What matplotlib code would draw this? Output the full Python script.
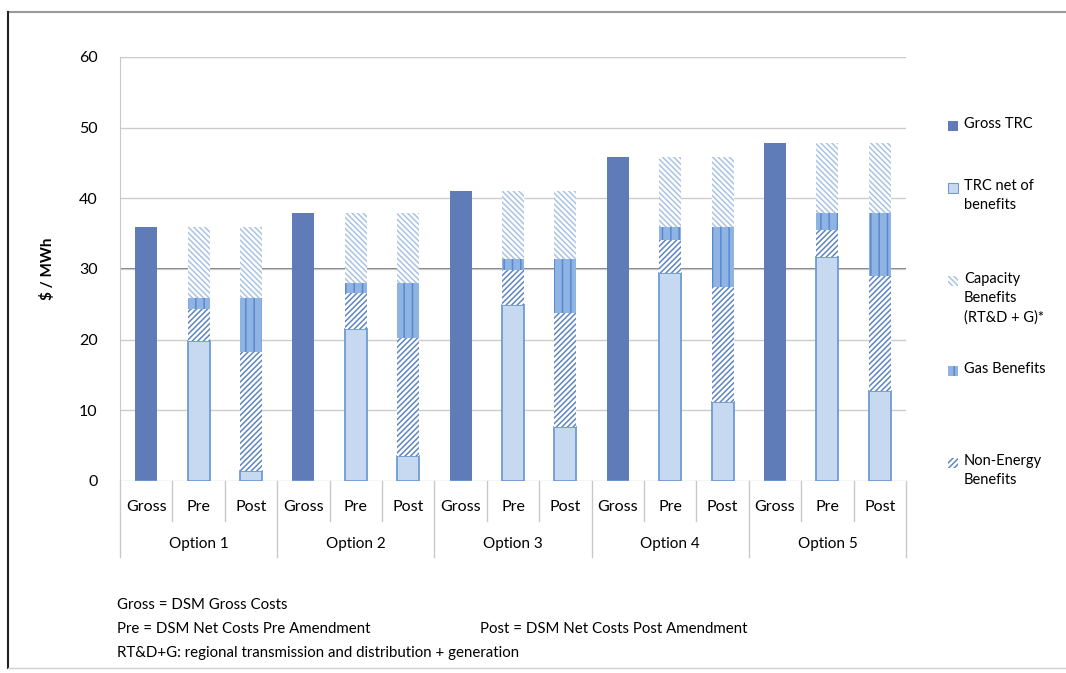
import matplotlib.pyplot as plt
from matplotlib.patches import Rectangle
from matplotlib.lines import Line2D
import numpy as np

plt.rcParams['font.family'] = ['Lato', 'DejaVu Sans']
plt.rcParams['hatch.linewidth'] = 1.1

# data ($/MWh), one value per bar: Gross, Pre, Post for each option
options = ['Option 1', 'Option 2', 'Option 3', 'Option 4', 'Option 5']
bar_labels = ['Gross', 'Pre', 'Post'] * 5
gross_trc = [36.0, 0, 0, 37.9, 0, 0, 41.0, 0, 0, 45.8, 0, 0, 47.8, 0, 0]
trc_net = [0, 19.8, 1.4, 0, 21.5, 3.5, 0, 24.9, 7.6, 0, 29.5, 11.2, 0, 31.7, 12.8]
non_energy = [0, 4.6, 16.9, 0, 5.1, 16.7, 0, 5.0, 16.2, 0, 4.6, 16.3, 0, 3.8, 16.2]
gas = [0, 1.5, 7.6, 0, 1.4, 7.8, 0, 1.5, 7.6, 0, 1.9, 8.5, 0, 2.4, 8.9]
capacity = [0, 10.1, 10.1, 0, 9.9, 9.9, 0, 9.6, 9.6, 0, 9.8, 9.8, 0, 9.9, 9.9]

W, H = 1066, 673
fig = plt.figure(figsize=(W / 100, H / 100), dpi=100)
ax = fig.add_axes([120 / W, 1 - 481 / H, (906 - 120) / W, (481 - 57) / H])

x = np.arange(len(bar_labels))
bw = 0.42
b1 = np.array(trc_net)
b2 = b1 + np.array(non_energy)
b3 = b2 + np.array(gas)

# styles per series
st_gross = dict(color='#5f7bb8', linewidth=0)
st_trc = dict(facecolor='#c6d9f1', edgecolor='#6f9bd2', linewidth=1.3)
st_cap = dict(facecolor='white', edgecolor='#a9c3e3', hatch='\\' * 6, linewidth=0)
st_gas = dict(facecolor='#8fb4e4', edgecolor='#5a88cf', hatch='||', linewidth=0)
st_ne = dict(facecolor='white', edgecolor='#5f86c2', hatch='/' * 6, linewidth=0)

ax.bar(x, gross_trc, bw, zorder=3, **st_gross)
ax.bar(x, trc_net, bw, zorder=3, **st_trc)
ax.bar(x, non_energy, bw, bottom=b1, zorder=3, **st_ne)
ax.bar(x, gas, bw, bottom=b2, zorder=3, **st_gas)
ax.bar(x, capacity, bw, bottom=b3, zorder=3, **st_cap)

ax.set_xlim(-0.5, len(x) - 0.5)
ax.set_ylim(0, 60)
ax.set_yticks(range(0, 61, 10))
ax.tick_params(axis='y', length=0, pad=16, labelsize=11.5)
ax.set_xticks([])
ax.yaxis.grid(True, color='#cccccc', linewidth=1, zorder=0)
ax.axhline(30, color='#606060', linewidth=1.2, zorder=1)
ax.axhline(60, color='#9a9a9a', linewidth=1.5, zorder=1)
for s in ['top', 'right', 'bottom']:
    ax.spines[s].set_visible(False)
ax.spines['left'].set_color('#c8c8c8')
ax.set_ylabel('$ / MWh', fontsize=11, fontweight='bold', labelpad=17)

# category table under the axis
tr = ax.get_xaxis_transform()
for i, lab in enumerate(bar_labels):
    ax.text(i, -0.061, lab, transform=tr, ha='center', va='center', fontsize=11.5)
for g, opt in enumerate(options):
    ax.text(3 * g + 1, -0.149, opt, transform=tr, ha='center', va='center', fontsize=11)
for k in range(len(x) + 1):
    xb = k - 0.5
    y_end = -0.179 if k % 3 == 0 else -0.095
    ax.add_line(Line2D([xb, xb], [0, y_end], transform=tr, color='#c8c8c8',
                       linewidth=1, clip_on=False))

# legend on the right
legend_items = [
    (st_gross, 'Gross TRC', 126),
    (st_trc, 'TRC net of\nbenefits', 188),
    (st_cap, 'Capacity\nBenefits\n(RT&D + G)*', 281),
    (st_gas, 'Gas Benefits', 371),
    (st_ne, 'Non-Energy\nBenefits', 463),
]
for st, lab, yc in legend_items:
    kw = dict(st)
    if 'color' in kw:
        kw['facecolor'] = kw.pop('color')
    kw['linewidth'] = min(kw.get('linewidth', 0), 0.8)
    fig.patches.append(Rectangle((948 / W, 1 - (yc + 5) / H), 10 / W, 10 / H,
                                 transform=fig.transFigure, **kw))
    fig.text(964 / W, 1 - (yc - 9) / H, lab, ha='left', va='top', fontsize=10.5,
             linespacing=1.45)

# footnotes
fig.text(117 / W, 1 - 605 / H, 'Gross = DSM Gross Costs', va='center', fontsize=10.8)
fig.text(117 / W, 1 - 629 / H, 'Pre = DSM Net Costs Pre Amendment', va='center', fontsize=10.8)
fig.text(480 / W, 1 - 629 / H, 'Post = DSM Net Costs Post Amendment', va='center', fontsize=10.8)
fig.text(117 / W, 1 - 653 / H, 'RT&D+G: regional transmission and distribution + generation',
         va='center', fontsize=10.8)

# outer frame
fig.add_artist(Line2D([8 / W, 1], [1 - 12 / H, 1 - 12 / H], transform=fig.transFigure,
                      color='#9a9a9a', linewidth=1.5))
fig.add_artist(Line2D([8 / W, 8 / W], [1 - 12 / H, 1 - 668 / H], transform=fig.transFigure,
                      color='#222222', linewidth=1.5))
fig.add_artist(Line2D([8 / W, 1], [1 - 668 / H, 1 - 668 / H], transform=fig.transFigure,
                      color='#d0d0d0', linewidth=1))

fig.savefig('out.png', dpi=100)
